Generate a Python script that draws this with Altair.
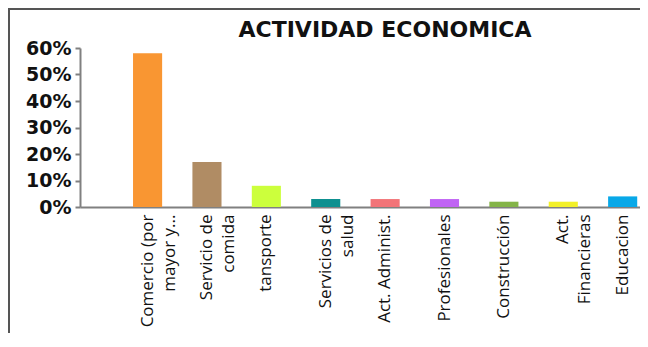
import altair as alt
import pandas as pd

categories = ["Comercio (por|mayor y...", "Servicio de|comida", "tansporte", "Servicios de|salud",
              "Act. Administ.", "Profesionales", "Construcción", "Act.|Financieras", "Educacion"]
values = [0.58, 0.17, 0.08, 0.03, 0.03, 0.03, 0.02, 0.02, 0.04]
colors = ["#F99632", "#B08C64", "#CCFF3C", "#0E9090", "#F27478", "#C064F4", "#84B448", "#F2F028", "#08A8E8"]

df = pd.DataFrame({"cat": categories, "val": values, "col": colors})

W, H = 560, 159

bars = alt.Chart(df).mark_bar(clip=False).encode(
    x=alt.X("cat:N", sort=categories,
            scale=alt.Scale(paddingInner=0.51, paddingOuter=0.47, align=0.95),
            axis=alt.Axis(title=None, labelAngle=-90, labelAlign="right", labelBaseline="middle",
                          labelExpr="split(datum.label, '|')", labelFont="Open Sans",
                          labelFontSize=17, labelColor="#111", labelPadding=7, labelLineHeight=22,
                          ticks=False, domainColor="#808080", domainWidth=2)),
    y=alt.Y("val:Q", scale=alt.Scale(domain=[0, 0.6]),
            axis=alt.Axis(title=None, format=".0%", values=[0, 0.1, 0.2, 0.3, 0.4, 0.5, 0.6],
                          labelFont="DejaVu Sans", labelFontSize=19, labelFontWeight="bold",
                          labelColor="#111", tickSize=5, tickColor="#808080", tickWidth=2,
                          domainColor="#808080", domainWidth=2, labelPadding=4, grid=False)),
    color=alt.Color("col:N", scale=None),
)

frame_df = pd.DataFrame({"a": [0]})
frame_top = alt.Chart(frame_df).mark_rule(color="#555", strokeWidth=2, clip=False).encode(
    x=alt.value(-72), x2=alt.value(700), y=alt.value(-39))
frame_left = alt.Chart(frame_df).mark_rule(color="#555", strokeWidth=2, clip=False).encode(
    x=alt.value(-71), y=alt.value(-40), y2=alt.value(400))

title = alt.Chart(pd.DataFrame({"t": ["ACTIVIDAD ECONOMICA"]})).mark_text(
    font="DejaVu Sans", fontSize=22, fontWeight="bold", color="#111", align="center", baseline="middle"
).encode(text="t:N", x=alt.value(305), y=alt.value(-18))

chart = alt.layer(frame_top, frame_left, bars, title).properties(
    width=W, height=H,
    autosize=alt.AutoSizeParams(type="none"),
    padding={"left": 72, "top": 40, "right": 0, "bottom": 126},
).configure_view(stroke=None)

chart.save("out.html", embed_options={"renderer": "svg", "actions": False})
